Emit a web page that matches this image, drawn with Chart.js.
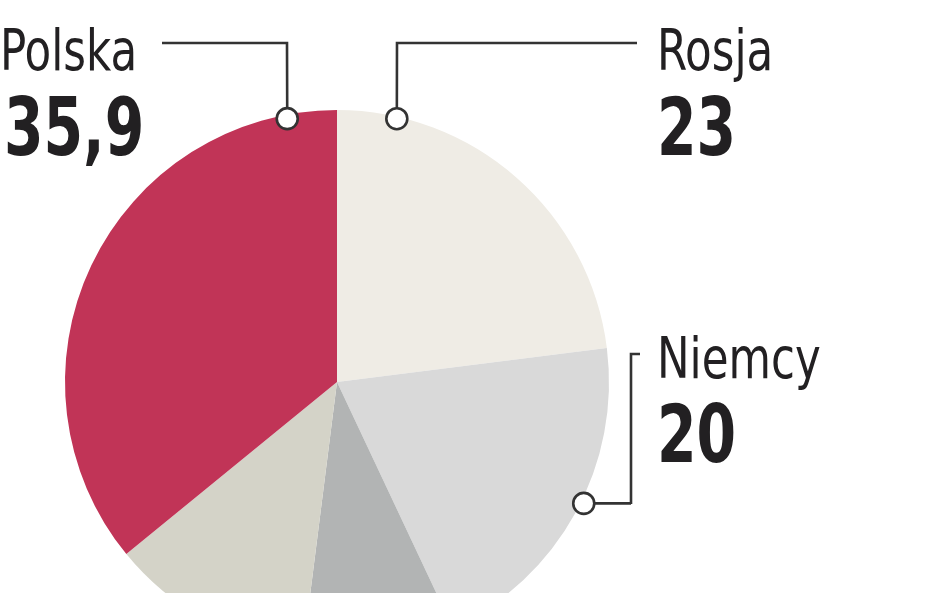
<!DOCTYPE html>
<html>
<head>
<meta charset="utf-8">
<script src="https://cdn.jsdelivr.net/npm/chart.js@4"></script>
<style>
    html, body { margin: 0; padding: 0; background: #fff; overflow: hidden; }
    #wrap { position: absolute; left: 0; top: 0; width: 948px; height: 700px; }
</style>
</head>
<body>
<div id="wrap"><canvas id="myChart"></canvas></div>
<script>
// slices clockwise from 12 o'clock
var categories = ['Rosja', 'Niemcy', 'Inne 1', 'Inne 2', 'Polska'];
var values = [23, 20, 9, 12.1, 35.9];
var valueLabels = ['23', '20', '', '', '35,9'];
var colors = ['#efece5', '#d9d9d9', '#b2b4b4', '#d4d3c8', '#c13457'];

var nameFont = "'DejaVu Sans Condensed', 'Liberation Sans Narrow', sans-serif";
var ink = '#222022';

// leader lines: which slice, point on the rim (degrees clockwise from top), path, text spot
var callouts = [
    { index: 4, angle: -10.7, dr: -4, path: [[287, 43], [162, 43]], text: [0, 70], num: [4, 155] },
    { index: 0, angle: 12.8, dr: -2, path: [[397, 43], [637, 43]], text: [657, 70], num: [657, 155] },
    { index: 1, angle: 116.2, dr: 3, path: [[631, 504], [631, 354], [640, 354]], text: [657, 378], num: [657, 462] }
];

function narrowText(ctx, str, x, y, sx) {
    ctx.save();
    ctx.translate(x, y);
    ctx.scale(sx, 1);
    ctx.fillText(str, 0, 0);
    ctx.restore();
}

var calloutPlugin = {
    id: 'callouts',
    afterDraw: function(chart) {
        var ctx = chart.ctx;
        var arc = chart.getDatasetMeta(0).data[0];
        var cx = arc.x, cy = arc.y, r = arc.outerRadius;
        ctx.save();
        callouts.forEach(function(c) {
            var a = (c.angle - 90) * Math.PI / 180;
            var px = cx + Math.cos(a) * (r + c.dr);
            var py = cy + Math.sin(a) * (r + c.dr);
            ctx.strokeStyle = '#333';
            ctx.lineWidth = 2.6;
            ctx.beginPath();
            ctx.moveTo(px, py);
            if (Math.abs(c.path[0][0] - px) < 3) {
                ctx.lineTo(c.path[0][0], c.path[0][1]);
            } else {
                ctx.lineTo(c.path[0][0], py);
                ctx.lineTo(c.path[0][0], c.path[0][1]);
            }
            for (var i = 1; i < c.path.length; i++) {
                ctx.lineTo(c.path[i][0], c.path[i][1]);
            }
            ctx.stroke();
            ctx.beginPath();
            ctx.arc(px, py, 10.5, 0, Math.PI * 2);
            ctx.fillStyle = '#fff';
            ctx.fill();
            ctx.stroke();

            ctx.fillStyle = ink;
            ctx.textAlign = 'left';
            ctx.textBaseline = 'alphabetic';
            ctx.font = '57px ' + nameFont;
            narrowText(ctx, categories[c.index], c.text[0], c.text[1], 0.85);
            ctx.font = 'bold 80px ' + nameFont;
            narrowText(ctx, valueLabels[c.index], c.num[0], c.num[1], 0.79);
        });
        ctx.restore();
    }
};

var ctx = document.getElementById('myChart').getContext('2d');
var myChart = new Chart(ctx, {
    type: 'pie',
    data: {
        labels: categories,
        datasets: [{
            data: values,
            backgroundColor: colors,
            borderWidth: 0
        }]
    },
    options: {
        responsive: true,
        maintainAspectRatio: false,
        animation: false,
        layout: {
            padding: { left: 65, top: 110, right: 339, bottom: 46 }
        },
        plugins: {
            legend: { display: false },
            tooltip: { enabled: false }
        }
    },
    plugins: [calloutPlugin]
});
</script>
</body>
</html>
